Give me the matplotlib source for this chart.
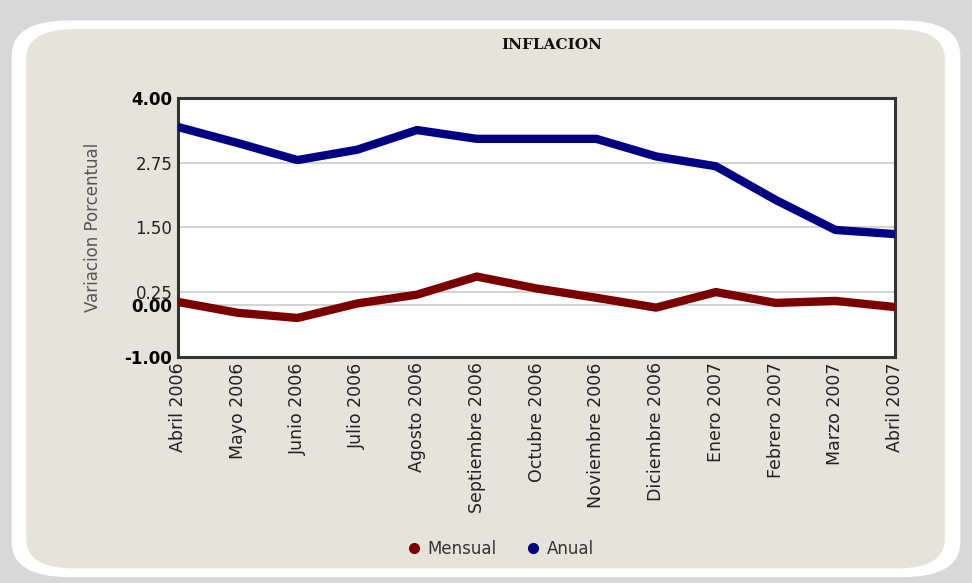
import matplotlib.pyplot as plt
from matplotlib.patches import FancyBboxPatch
from matplotlib.lines import Line2D

meses = ["Abril 2006", "Mayo 2006", "Junio 2006", "Julio 2006", "Agosto 2006",
         "Septiembre 2006", "Octubre 2006", "Noviembre 2006", "Diciembre 2006",
         "Enero 2007", "Febrero 2007", "Marzo 2007", "Abril 2007"]
anual = [3.44, 3.13, 2.80, 3.00, 3.38, 3.21, 3.21, 3.21, 2.87, 2.68, 2.03, 1.45, 1.37]
mensual = [0.06, -0.15, -0.25, 0.03, 0.20, 0.55, 0.32, 0.14, -0.05, 0.25, 0.04, 0.08, -0.04]
yticks = [4.00, 2.75, 1.50, 0.25, 0.00, -1.00]
bold_ticks = [4.00, 0.00, -1.00]

fig = plt.figure(figsize=(9.72, 5.83), dpi=100)
fig.patch.set_facecolor("#d8d8d8")

# rounded white frame with beige panel behind the chart
frame = FancyBboxPatch((0.012, 0.01), 0.976, 0.955, boxstyle="round,pad=0,rounding_size=0.06",
                       transform=fig.transFigure, facecolor="white", edgecolor="none", zorder=-2)
fig.add_artist(frame)
panel = FancyBboxPatch((0.027, 0.025), 0.945, 0.925, boxstyle="round,pad=0,rounding_size=0.05",
                       transform=fig.transFigure, facecolor="#e5e4da", edgecolor="none", zorder=-1)
fig.add_artist(panel)

ax = fig.add_axes([0.183, 0.388, 0.738, 0.444])
ax.set_facecolor("white")
x = range(len(meses))
ax.plot(x, anual, color="#000080", lw=6, solid_capstyle="butt", zorder=3)
ax.plot(x, mensual, color="#7a0000", lw=6, solid_capstyle="butt", zorder=3)

ax.set_xlim(0, len(meses) - 1)
ax.set_ylim(-1, 4)
ax.set_yticks(yticks)
ax.set_yticklabels(["%.2f" % v for v in yticks], fontsize=12, color="#222222")
for lab, v in zip(ax.get_yticklabels(), yticks):
    if v in bold_ticks:
        lab.set_fontweight("bold")
        lab.set_color("black")
ax.set_xticks(list(x))
ax.set_xticklabels(meses, rotation=90, fontsize=12.5, color="#222222")
ax.tick_params(length=0, pad=4)
ax.grid(axis="y", color="#cccccc", lw=1.2, zorder=1)
for s in ax.spines.values():
    s.set_color("#333333")
    s.set_linewidth(2.2)

ax.set_ylabel("Variacion Porcentual", fontsize=12, color="#555555", labelpad=16)
fig.text(0.568, 0.922, "INFLACION", ha="center", va="center", fontsize=11,
         fontweight="bold", family="DejaVu Serif", color="#111111")

handles = [Line2D([], [], ls="none", marker="o", color="#7a0000", markersize=7),
           Line2D([], [], ls="none", marker="o", color="#000080", markersize=7)]
fig.legend(handles, ["Mensual", "Anual"], loc="center", bbox_to_anchor=(0.51, 0.058),
           ncol=2, frameon=False, fontsize=12, handletextpad=-0.2, columnspacing=1.2,
           labelcolor="#333333")

fig.savefig("out.png", dpi=100, facecolor=fig.get_facecolor())
